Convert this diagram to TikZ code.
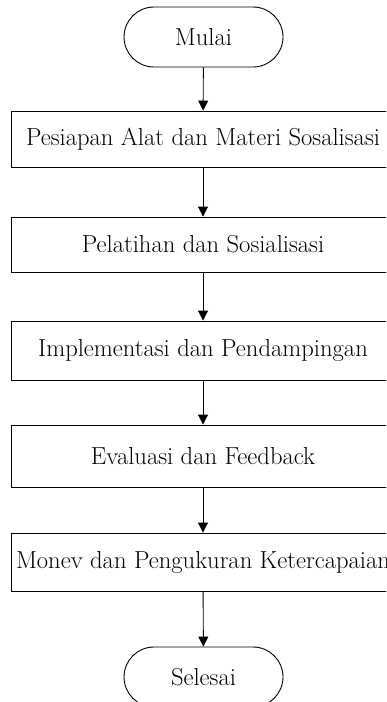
\documentclass[tikz,border=0pt]{standalone}
\usepackage{fontspec}
\usetikzlibrary{arrows.meta}
\begin{document}
\begin{tikzpicture}[x=1pt,y=-1pt,
  txt/.style={font=\fontsize{24.6}{28}\selectfont},
  box/.style={txt, draw, line width=0.9pt, minimum width=384pt, inner sep=0pt},
  term/.style={txt, draw, line width=0.9pt, rounded corners=30pt, minimum width=159pt, minimum height=60pt, inner sep=0pt},
  arr/.style={-{Triangle[length=10pt,width=10pt]}, line width=0.9pt}]
\useasboundingbox (0,0) rectangle (386,702);
\clip (0,0) rectangle (386,702);
\node[term] (start) at (203.5,37) {Mulai};
\node[box, minimum height=56pt] (b1) at (203,139) {\makebox[0pt]{Pesiapan Alat dan Materi Sosalisasi}};
\node[box, minimum height=55pt] (b2) at (203,244.5) {\makebox[0pt]{Pelatihan dan Sosialisasi}};
\node[box, minimum height=59pt] (b3) at (203,350.5) {\makebox[0pt]{Implementasi dan Pendampingan}};
\node[box, minimum height=62pt] (b4) at (203,456) {\makebox[0pt]{Evaluasi dan Feedback}};
\node[box, minimum height=58pt] (b5) at (203,562) {\makebox[0pt]{Monev dan Pengukuran Ketercapaian}};
\node[term] (end) at (203.5,677) {Selesai};
\draw[arr] (start) -- (b1);
\draw[arr] (b1) -- (b2);
\draw[arr] (b2) -- (b3);
\draw[arr] (b3) -- (b4);
\draw[arr] (b4) -- (b5);
\draw[arr] (b5) -- (end);
\end{tikzpicture}
\end{document}
